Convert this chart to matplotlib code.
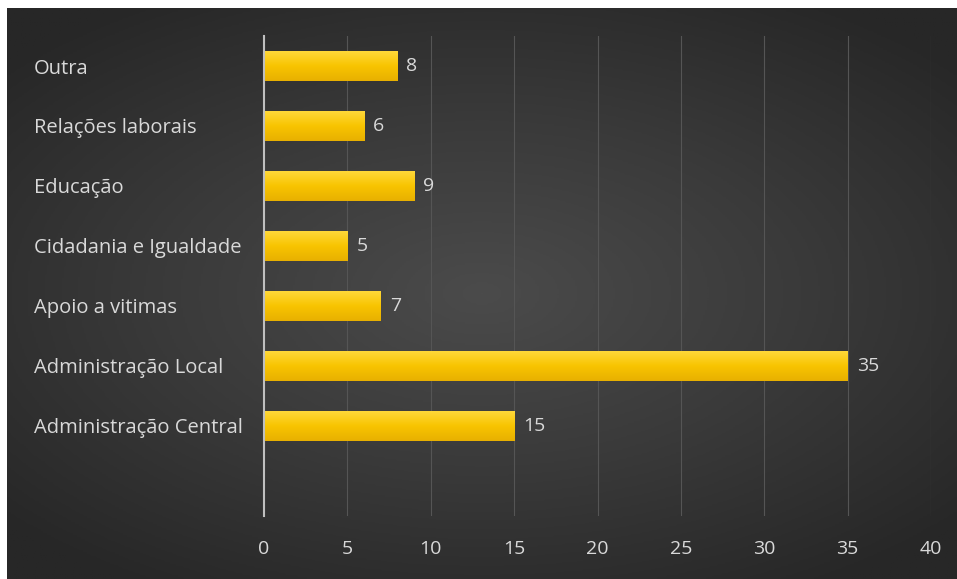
import numpy as np
import matplotlib
matplotlib.use("Agg")
import matplotlib.pyplot as plt
from matplotlib.colors import LinearSegmentedColormap

categories = ["Outra", "Relações laborais", "Educação", "Cidadania e Igualdade",
              "Apoio a vitimas", "Administração Local", "Administração Central"]
values = [8, 6, 9, 5, 7, 35, 15]
xticks = [0, 5, 10, 15, 20, 25, 30, 35, 40]

plt.rcParams['font.family'] = ['Open Sans', 'DejaVu Sans']
W, H = 957, 579
fig = plt.figure(figsize=(W / 100, H / 100), dpi=100)
fig.patch.set_facecolor("white")

# dark radial-gradient panel
bg = fig.add_axes([7 / W, 0, (W - 7) / W, (H - 8) / H])
bg.set_axis_off()
yy, xx = np.mgrid[-1:1:300j, -1:1:500j]
r = np.sqrt((xx / 1.0) ** 2 + (yy / 0.9) ** 2)
r = np.clip(r / 1.35, 0, 1)
bgcmap = LinearSegmentedColormap.from_list("bg", ["#4b4b4b", "#3a3a3a", "#272727"])
bg.imshow(r, cmap=bgcmap, aspect="auto", extent=[0, 1, 0, 1], vmin=0, vmax=1)
bg.set_xlim(0, 1)
bg.set_ylim(0, 1)

ax = fig.add_axes([264 / W, 1 - 516 / H, (931 - 264) / W, (516 - 36) / H])
ax.set_facecolor("none")
n = len(categories)
ypos = np.arange(n, 0, -1)  # leave empty slot at bottom (position 0)

bars = ax.barh(ypos, values, height=0.5, color="#f6c200", zorder=3)
grad = np.linspace(0, 1, 100).reshape(-1, 1)
barcmap = LinearSegmentedColormap.from_list("bar", ["#ffd83a", "#f8c400", "#e8b000"])
for b in bars:
    x0, y0 = b.get_x(), b.get_y()
    w, h = b.get_width(), b.get_height()
    im = ax.imshow(grad, cmap=barcmap, aspect="auto",
                   extent=[x0, x0 + w, y0, y0 + h], origin="upper", zorder=4)
    im.set_clip_path(b)

for y, v in zip(ypos, values):
    ax.annotate(str(v), (v, y), xytext=(6.5, 0), textcoords="offset points",
                va="center", ha="left", color="#d9d9d9", fontsize=14, zorder=5)

ax.set_xlim(0, 40)
ax.set_ylim(-0.5, n + 0.5)
ax.set_xticks(xticks)
ax.set_xticklabels([str(t) for t in xticks])
ax.set_yticks(ypos)
ax.set_yticklabels(categories, ha="left")
ax.tick_params(axis="y", length=0, pad=165.6, colors="#d9d9d9", labelsize=14.5)
ax.tick_params(axis="x", length=0, pad=17, colors="#d9d9d9", labelsize=14)
ax.grid(axis="x", color="#555555", linewidth=0.8, zorder=1)
ax.set_axisbelow(True)
for s in ["top", "right", "bottom"]:
    ax.spines[s].set_visible(False)
ax.spines["left"].set_color("#bfbfbf")
ax.spines["left"].set_linewidth(1.5)
ax.spines["left"].set_zorder(6)

fig.savefig("out.png", dpi=100, facecolor=fig.get_facecolor())
